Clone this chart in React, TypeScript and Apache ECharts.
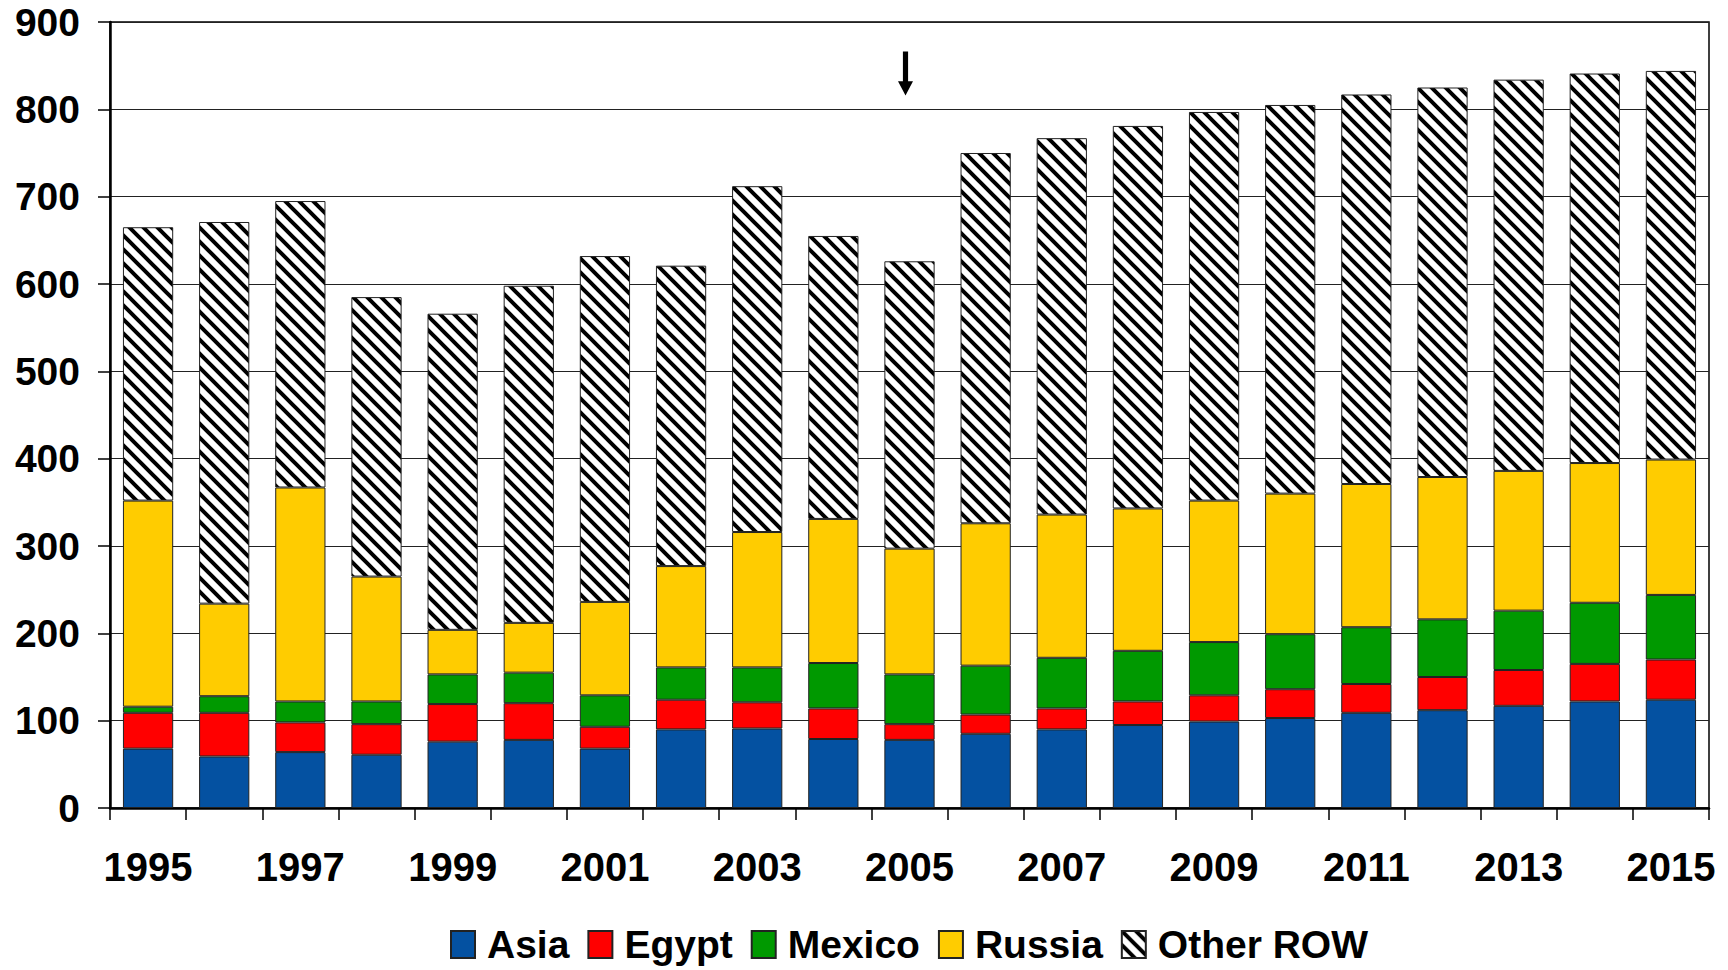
import React, { useEffect, useRef } from "react";
import * as echarts from "echarts";

const years = ["1995","1996","1997","1998","1999","2000","2001","2002","2003","2004","2005","2006","2007","2008","2009","2010","2011","2012","2013","2014","2015"];
const asia = [68, 59, 64, 61, 76, 78, 68, 90, 91, 79, 78, 85, 90, 95, 99, 103, 109, 112, 117, 122, 124];
const egypt = [41, 50, 34, 35, 43, 42, 25, 34, 30, 35, 18, 22, 24, 27, 30, 33, 33, 38, 41, 43, 46];
const mexico = [7, 19, 24, 26, 34, 35, 36, 37, 40, 52, 57, 56, 58, 58, 61, 63, 65, 66, 68, 70, 74];
const russia = [236, 106, 245, 143, 51, 57, 107, 116, 155, 165, 144, 163, 164, 163, 162, 161, 164, 163, 160, 160, 155];
const otherRow = [313, 437, 328, 320, 362, 386, 396, 344, 396, 324, 329, 424, 431, 438, 445, 445, 446, 446, 448, 446, 445];
const yTicks = { min: 0, max: 900, interval: 100 };
const arrowAt = { year: "2005", value: 841 };

const FONT = "'Liberation Sans', Arial, sans-serif";

const tileSvg =
  "<svg xmlns='http://www.w3.org/2000/svg' width='14' height='14'>" +
  "<rect width='14' height='14' fill='white'/>" +
  "<path d='M-2,-2L16,16M-3,11L3,17M11,-3L17,3' stroke='black' stroke-width='4'/>" +
  "</svg>";
const tileUrl = "data:image/svg+xml;charset=utf-8," + encodeURIComponent(tileSvg);

export default function App() {
  const ref = useRef<HTMLDivElement>(null);
  useEffect(() => {
    document.body.style.margin = "0";
    const chart = echarts.init(ref.current!, null, { renderer: "svg" });
    const hatch: any = { image: tileUrl, repeat: "repeat", imageWidth: 14, imageHeight: 14 };
    const barBase = (name: string, data: number[], color: any) => ({
      name,
      type: "bar",
      stack: "total",
      data,
      barWidth: "66%",
      itemStyle: { color, borderColor: "#222", borderWidth: 1 },
      emphasis: { disabled: true },
    });
    const otherSeries: any = barBase("Other ROW", otherRow, hatch);
    otherSeries.markPoint = {
      silent: true,
      symbol: "path://M4.75,0L9.75,0L9.75,30L14.5,30L7.25,44.3L0,30L4.75,30Z",
      symbolSize: [15, 44],
      symbolKeepAspect: false,
      symbolOffset: [-4, 0],
      itemStyle: { color: "#000", borderWidth: 0 },
      label: { show: false },
      data: [{ coord: [arrowAt.year, arrowAt.value] }],
    };
    chart.setOption({
      animation: false,
      backgroundColor: "#fff",
      grid: {
        left: 110,
        right: 19,
        top: 22,
        bottom: 162,
        show: true,
        borderColor: "#000",
        borderWidth: 1.5,
        backgroundColor: "transparent",
      },
      legend: {
        left: 450,
        top: 925,
        padding: 0,
        itemWidth: 24,
        itemHeight: 27,
        itemGap: 18,
        icon: "rect",
        textStyle: { fontSize: 39, fontWeight: "bold", color: "#000", fontFamily: FONT, padding: [0, 0, 0, 7] },
        data: ["Asia", "Egypt", "Mexico", "Russia", "Other ROW"],
      },
      xAxis: {
        type: "category",
        data: years,
        boundaryGap: true,
        axisLine: { show: true, lineStyle: { color: "#000", width: 2.5 } },
        axisTick: { show: true, interval: 0, length: 12, lineStyle: { color: "#000", width: 1.5 } },
        axisLabel: {
          interval: 1,
          margin: 39,
          fontSize: 40,
          fontWeight: "bold",
          color: "#000",
          fontFamily: FONT,
        },
        splitLine: { show: false },
      },
      yAxis: {
        type: "value",
        min: yTicks.min,
        max: yTicks.max,
        interval: yTicks.interval,
        axisLine: { show: true, lineStyle: { color: "#000", width: 2.5 } },
        axisTick: { show: true, length: 12, lineStyle: { color: "#000", width: 1.5 } },
        axisLabel: { margin: 30, fontSize: 39, fontWeight: "bold", color: "#000", fontFamily: FONT },
        splitLine: { show: true, lineStyle: { color: "#222", width: 1.2 } },
      },
      series: [
        barBase("Asia", asia, "#0451A1"),
        barBase("Egypt", egypt, "#FF0000"),
        barBase("Mexico", mexico, "#009900"),
        barBase("Russia", russia, "#FFCC00"),
        otherSeries,
      ],
    });
    return () => chart.dispose();
  }, []);
  return <div ref={ref} style={{ width: 1728, height: 970 }} />;
}
